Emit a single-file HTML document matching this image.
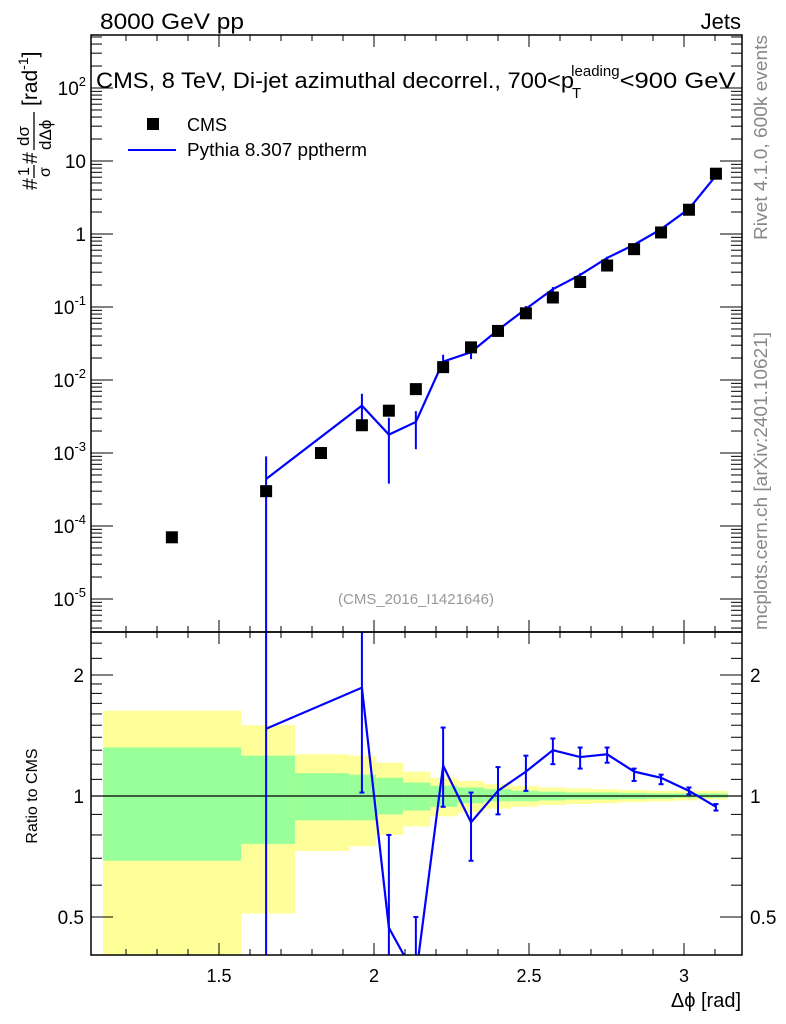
<!DOCTYPE html>
<html><head><meta charset="utf-8"><style>
html,body{margin:0;padding:0;background:#fff;overflow:hidden;width:786px;height:1024px}
svg{display:block;font-family:"Liberation Sans",sans-serif}
</style></head><body>
<svg id="c" width="786" height="1024" viewBox="0 0 786 1024">
<g id="bands"></g>
<g id="marks"></g>
<g id="axes"></g>
<text x="100" y="29" font-size="22" textLength="144" lengthAdjust="spacingAndGlyphs">8000 GeV pp</text>
<text x="741" y="29" font-size="22" text-anchor="end">Jets</text>
<text x="96" y="88" font-size="22"><tspan textLength="478" lengthAdjust="spacingAndGlyphs">CMS, 8 TeV, Di-jet azimuthal decorrel., 700&lt;p</tspan><tspan font-size="15" dx="-2" dy="10">T</tspan><tspan font-size="15" dx="-10" dy="-22">leading</tspan><tspan dy="12" textLength="116" lengthAdjust="spacingAndGlyphs">&lt;900 GeV</tspan></text>
<rect x="147" y="118" width="12" height="12" fill="#000"/>
<text x="187" y="131" font-size="18">CMS</text>
<line x1="128" y1="150" x2="176" y2="150" stroke="#00f" stroke-width="2"/>
<text x="187" y="156" font-size="18" textLength="180" lengthAdjust="spacingAndGlyphs">Pythia 8.307 pptherm</text>
<text x="416" y="604" font-size="15" fill="#999" text-anchor="middle">(CMS_2016_I1421646)</text>
<text transform="translate(767,240) rotate(-90)" font-size="18" fill="#888" textLength="205" lengthAdjust="spacingAndGlyphs">Rivet 4.1.0,  600k events</text>
<text transform="translate(767,630) rotate(-90)" font-size="18" fill="#888" textLength="298" lengthAdjust="spacingAndGlyphs">mcplots.cern.ch [arXiv:2401.10621]</text>
<g transform="translate(37,190) rotate(-90)">
<text x="0" y="0" font-size="21">#</text>
<text x="14" y="-8" font-size="16">1</text>
<line x1="12" x2="25" y1="-3" y2="-3" stroke="#000" stroke-width="1.3"/>
<text x="13" y="13" font-size="16">σ</text>
<text x="26" y="0" font-size="21">#</text>
<text x="44" y="-8" font-size="17">dσ</text>
<line x1="40" x2="78" y1="-3" y2="-3" stroke="#000" stroke-width="1.3"/>
<text x="40" y="14" font-size="17">dΔϕ</text>
<text x="84" y="0" font-size="21">[rad<tspan font-size="14" dy="-9">-1</tspan><tspan dy="9">]</tspan></text>
</g>
<text transform="translate(37,796) rotate(-90)" font-size="16" text-anchor="middle">Ratio to CMS</text>
<text x="741" y="1007" font-size="20" text-anchor="end">Δϕ [rad]</text>
</svg>
<script>
const xs = [1.348,1.652,1.829,1.961,2.048,2.135,2.223,2.313,2.400,2.490,2.577,2.665,2.752,2.839,2.926,3.016,3.103];
const cms = [7e-5,3e-4,1.0e-3,2.4e-3,3.8e-3,7.5e-3,1.5e-2,2.8e-2,4.7e-2,8.2e-2,0.135,0.22,0.37,0.62,1.05,2.15,6.7];
const pyX = [1.652,1.961,2.048,2.135,2.223,2.313,2.400,2.490,2.577,2.665,2.752,2.839,2.926,3.016,3.103];
const pyCms = [3e-4,2.4e-3,3.8e-3,7.5e-3,1.5e-2,2.8e-2,4.7e-2,8.2e-2,0.135,0.22,0.37,0.62,1.05,2.15,6.7];
const ratio = [1.47,1.86,0.47,0.355,1.19,0.86,1.03,1.15,1.30,1.25,1.27,1.15,1.11,1.03,0.94];
const ratioLo = [0.0,1.02,0.10,0.15,0.94,0.69,0.90,1.03,1.20,1.17,1.21,1.09,1.07,1.01,0.92];
const ratioHi = [3.0,2.7,0.80,0.50,1.48,1.02,1.18,1.26,1.39,1.32,1.32,1.17,1.13,1.05,0.955];
const binEdges = [1.126,1.571,1.745,1.920,2.007,2.094,2.182,2.269,2.356,2.443,2.531,2.618,2.705,2.793,2.880,2.967,3.054,3.142];
const yelHi = [1.63,1.50,1.27,1.26,1.21,1.15,1.11,1.09,1.07,1.06,1.05,1.045,1.04,1.035,1.03,1.03,1.03];
const yelLo = [0.30,0.51,0.73,0.75,0.80,0.84,0.89,0.91,0.93,0.94,0.95,0.955,0.96,0.965,0.97,0.975,0.98];
const grnHi = [1.32,1.26,1.14,1.13,1.11,1.08,1.06,1.05,1.04,1.03,1.025,1.02,1.02,1.018,1.015,1.015,1.015];
const grnLo = [0.69,0.76,0.87,0.87,0.90,0.92,0.94,0.96,0.97,0.97,0.975,0.98,0.98,0.982,0.985,0.99,0.99];
const xTicks = [1.5,2,2.5,3];
const xTickLabels = ["1.5","2","2.5","3"];

const L=91,R=742,T=35,M=632,B=955;
const X=v=>219+(v-1.5)*310;
const Y=v=>453-(Math.log10(v)+3)*73;
const YR=v=>796-Math.log2(v)*121;
const NS='http://www.w3.org/2000/svg';
function mk(tag,attrs,parent){const e=document.createElementNS(NS,tag);for(const k in attrs)e.setAttribute(k,attrs[k]);parent.appendChild(e);return e;}
const gB=document.getElementById('bands'),gM=document.getElementById('marks'),gA=document.getElementById('axes');
const clipY=v=>Math.max(M,Math.min(B,v));
for(let i=0;i<yelHi.length;i++){
  const x0=X(binEdges[i]),x1=Math.min(X(binEdges[i+1]),R);
  const y=mk('rect',{x:x0,y:clipY(YR(yelHi[i])),width:x1-x0,height:clipY(YR(yelLo[i]))-clipY(YR(yelHi[i])),fill:'#ffff99'},gB);
  
  
  const g=mk('rect',{x:x0,y:YR(grnHi[i]),width:x1-x0,height:YR(grnLo[i])-YR(grnHi[i]),fill:'#99ff99'},gB);
  
  
}
const one=mk('line',{x1:L,x2:R,y1:YR(1),y2:YR(1),stroke:'#000','stroke-width':1.2},gM);


const defs=mk('defs',{},gM);
const c1=mk('clipPath',{id:'cm'},defs);mk('rect',{x:L,y:T,width:R-L,height:M-T},c1);
const c2=mk('clipPath',{id:'cr'},defs);mk('rect',{x:L,y:M,width:R-L,height:B-M},c2);
const gMain=mk('g',{'clip-path':'url(#cm)'},gM),gRat=mk('g',{'clip-path':'url(#cr)'},gM);
const py=pyX.map((x,i)=>[X(x),Y(pyCms[i]*ratio[i])]);
const pl=mk('polyline',{points:py.map(p=>p.join(',')).join(' '),fill:'none',stroke:'#00f','stroke-width':2.2},gMain);


pyX.forEach((x,i)=>{
  const lo=ratioLo[i]>0?Y(pyCms[i]*ratioLo[i]):B;
  const e=mk('line',{x1:X(x),x2:X(x),y1:Y(pyCms[i]*ratioHi[i]),y2:lo,stroke:'#00f','stroke-width':2},gMain);
  
  
  const r=mk('line',{x1:X(x),x2:X(x),y1:YR(ratioHi[i]),y2:ratioLo[i]>0?YR(ratioLo[i]):B,stroke:'#00f','stroke-width':2},gRat);
  
  
  [ratioHi[i],ratioLo[i]].forEach(v=>{if(v>0){mk('line',{x1:X(x)-2.5,x2:X(x)+2.5,y1:YR(v),y2:YR(v),stroke:'#00f','stroke-width':2},gRat);}});
});
const rl=mk('polyline',{points:pyX.map((x,i)=>X(x)+','+YR(ratio[i])).join(' '),fill:'none',stroke:'#00f','stroke-width':2.2},gRat);


xs.forEach((x,i)=>{
  const s=mk('rect',{x:X(x)-6,y:Y(cms[i])-6,width:12,height:12,fill:'#000'},gMain);
  
  
});
[[T,M],[M,B]].forEach(([a,b])=>mk('rect',{x:L,y:a,width:R-L,height:b-a,fill:'none',stroke:'#000','stroke-width':1.5},gA));
for(let v=1.2;v<=3.15;v+=0.1){
  const vv=Math.round(v*10)/10,maj=Math.abs(vv*2-Math.round(vv*2))<1e-6,len=maj?12:6,x=X(vv);
  [[T,1],[M,-1],[M,1],[B,-1]].forEach(([y0,d])=>mk('line',{x1:x,x2:x,y1:y0,y2:y0+d*len,stroke:'#000'},gA));
}
xTicks.forEach((v,i)=>{
  const t=mk('text',{x:X(v),y:982,'font-size':18,'text-anchor':'middle'},gA);t.textContent=xTickLabels[i];
  
  
});
for(let e=-6;e<=2;e++){for(let m=1;m<10;m++){
  const y=Y(m*Math.pow(10,e));if(y<T||y>M)continue;const len=m==1?22:11;
  mk('line',{x1:L,x2:L+len,y1:y,y2:y,stroke:'#000'},gA);mk('line',{x1:R,x2:R-len,y1:y,y2:y,stroke:'#000'},gA);
}}
for(let e=-5;e<=2;e++){
  const y=Y(Math.pow(10,e));const t=mk('text',{x:86,y:y+7,'font-size':19,'text-anchor':'end'},gA);
  
  
  if(e==0)t.textContent='1';else if(e==1)t.textContent='10';
  else{t.textContent='10';const s=mk('tspan',{'font-size':13,dy:-9},t);s.textContent=String(e);}
}
[0.4,0.5,0.6,0.7,0.8,0.9,1,1.1,1.2,1.3,1.4,1.5,1.6,1.7,1.8,1.9,2,2.2,2.4].forEach(v=>{
  const y=YR(v);if(y<M||y>B)return;const len=(v==0.5||v==1||v==2)?22:11;
  mk('line',{x1:L,x2:L+len,y1:y,y2:y,stroke:'#000'},gA);mk('line',{x1:R,x2:R-len,y1:y,y2:y,stroke:'#000'},gA);
});
[[2,'2'],[1,'1'],[0.5,'0.5']].forEach(([v,s])=>{
  const a=mk('text',{x:84,y:YR(v)+7,'font-size':19,'text-anchor':'end'},gA);a.textContent=s;
  
  
  const b=mk('text',{x:750,y:YR(v)+7,'font-size':19},gA);b.textContent=s;
  
  
});
</script>
</body></html>
